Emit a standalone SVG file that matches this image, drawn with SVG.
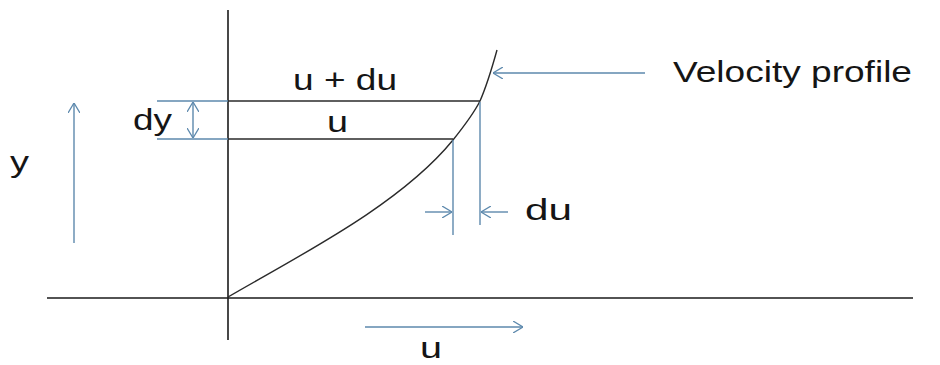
<svg xmlns="http://www.w3.org/2000/svg" width="940" height="365" viewBox="0 0 940 365">
<defs>
<marker id="ah" viewBox="0 0 10 12" refX="10" refY="6" markerWidth="10" markerHeight="12" markerUnits="userSpaceOnUse" orient="auto-start-reverse">
<path d="M0,0 L10,6 L0,12" fill="none" stroke="#5d89ad" stroke-width="1.3"/>
</marker>
<style>
.ax{stroke:#1a1a1a;stroke-width:1.6;fill:none}
.bk{stroke:#2a2a2a;stroke-width:1.4;fill:none}
.bl{stroke:#5d89ad;stroke-width:1.4;fill:none}
.ar{stroke:#5d89ad;stroke-width:1.4;fill:none;marker-end:url(#ah)}
.t{font-family:"Liberation Sans",Arial,sans-serif;font-size:29px;fill:#151515}
</style>
</defs>
<rect width="940" height="365" fill="#ffffff"/>
<g id="axes">
<line class="ax" x1="228" y1="10" x2="228" y2="340"/>
<line class="ax" x1="47" y1="298" x2="913" y2="298"/>
</g>
<g id="profile">
<path class="bk" d="M228,297 C300,255 400,205 453,140 C465,125 474,113 480,101 C487,85 492,68 497,50"/>
</g>
<g id="connectors">
<line class="bl" x1="157" y1="101" x2="228" y2="101"/>
<line class="bk" x1="228" y1="101" x2="480" y2="101"/>
<line class="bl" x1="157" y1="139" x2="228" y2="139"/>
<line class="bk" x1="228" y1="139" x2="453" y2="139"/>
<line class="bl" x1="453" y1="140" x2="453" y2="235"/>
<line class="bl" x1="480" y1="102" x2="480" y2="225"/>
<line class="bl" x1="193" y1="102" x2="193" y2="138" style="marker-start:url(#ah);marker-end:url(#ah)"/>
<line class="ar" x1="425" y1="212" x2="452" y2="212"/>
<line class="ar" x1="508" y1="212" x2="481" y2="212"/>
<line class="ar" x1="74" y1="243" x2="74" y2="103"/>
<line class="ar" x1="365" y1="327" x2="523" y2="327"/>
<line class="ar" x1="645" y1="73" x2="493" y2="73"/>
</g>
<g id="labels">
<text class="t" x="293" y="90" textLength="104" lengthAdjust="spacingAndGlyphs">u + du</text>
<text class="t" x="327" y="132" textLength="21" lengthAdjust="spacingAndGlyphs">u</text>
<text class="t" x="133" y="130" textLength="39" lengthAdjust="spacingAndGlyphs">dy</text>
<text class="t" x="10" y="172" textLength="19" lengthAdjust="spacingAndGlyphs">y</text>
<text class="t" x="525" y="220" textLength="47" lengthAdjust="spacingAndGlyphs">du</text>
<text class="t" x="420" y="358" textLength="22" lengthAdjust="spacingAndGlyphs">u</text>
<text class="t" x="673" y="82" textLength="239" lengthAdjust="spacingAndGlyphs">Velocity profile</text>
</g>
</svg>
